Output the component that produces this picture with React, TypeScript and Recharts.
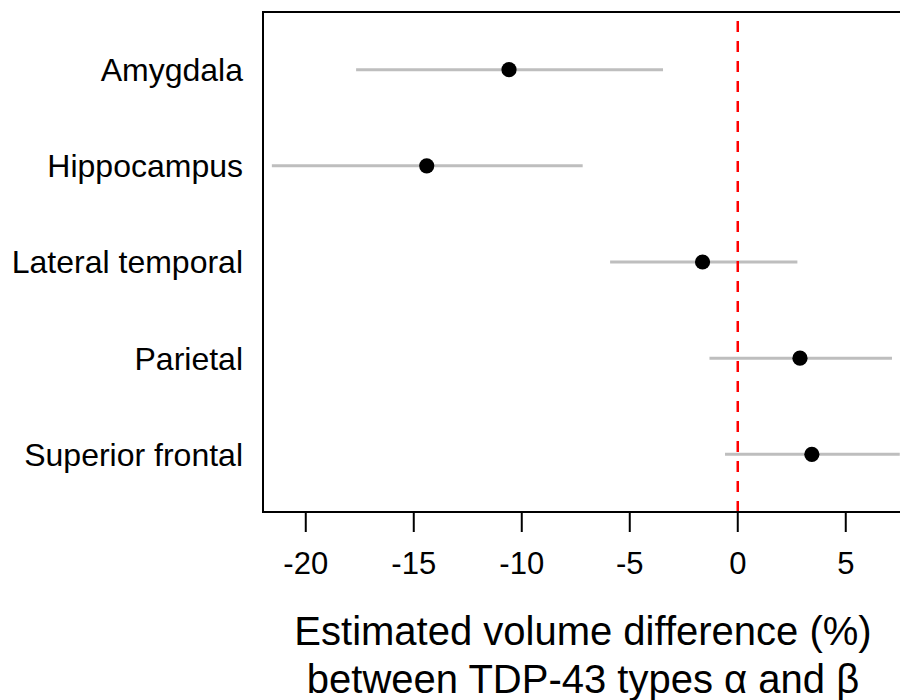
import {
  ScatterChart,
  Scatter,
  XAxis,
  YAxis,
  ErrorBar,
  ReferenceLine,
  ReferenceArea,
} from "recharts";

const regions = ["Amygdala", "Hippocampus", "Lateral temporal", "Parietal", "Superior frontal"];
const estimates = [-10.59, -14.4, -1.63, 2.88, 3.43];
const lowerCI = [-17.67, -21.57, -5.91, -1.31, -0.59];
const upperCI = [-3.46, -7.18, 2.76, 7.14, 7.5];
const xTicks = [-20, -15, -10, -5, 0, 5];

const X_MIN = -21.98;
const X_MAX = 7.65;
const Y_MIN = 0.4;
const Y_MAX = 5.6;

const FONT = "'Liberation Sans', Arial, sans-serif";

const points = regions.map((name, i) => ({
  name,
  x: estimates[i],
  y: i + 1,
  ci: [estimates[i] - lowerCI[i], upperCI[i] - estimates[i]],
}));

function Dot(props: any) {
  return <circle cx={props.cx} cy={props.cy} r={7.6} fill="#000" />;
}

function AxisTitle(props: any) {
  const { x, width } = props.viewBox;
  const cx = x + width / 2;
  return (
    <text textAnchor="middle" fontFamily={FONT} fontSize={40} fill="#000">
      <tspan x={cx} y={645}>Estimated volume difference (%)</tspan>
      <tspan x={cx} y={693}>between TDP-43 types α and β</tspan>
    </text>
  );
}

export default function App() {
  return (
    <div
      style={{
        position: "fixed",
        left: 0,
        top: 0,
        width: 900,
        height: 700,
        overflow: "hidden",
        background: "#fff",
      }}
    >
      <ScatterChart
        width={920}
        height={700}
        margin={{ top: 12, right: 17, bottom: 0, left: 0 }}
      >
        <XAxis
          type="number"
          dataKey="x"
          domain={[X_MIN, X_MAX]}
          allowDataOverflow
          ticks={xTicks}
          height={188}
          tickSize={20}
          tickMargin={20}
          axisLine={{ stroke: "#000", strokeWidth: 2 }}
          tickLine={{ stroke: "#000", strokeWidth: 2 }}
          tick={{ fill: "#000", fontSize: 31, fontFamily: FONT }}
          label={<AxisTitle />}
        />
        <YAxis
          type="number"
          dataKey="y"
          domain={[Y_MIN, Y_MAX]}
          reversed
          allowDataOverflow
          ticks={[1, 2, 3, 4, 5]}
          tickFormatter={(v: number) => regions[v - 1]}
          width={263}
          axisLine={false}
          tickLine={false}
          tickSize={6}
          tickMargin={14}
          tick={{ fill: "#000", fontSize: 32, fontFamily: FONT }}
        />
        <ReferenceArea
          x1={X_MIN}
          x2={X_MAX}
          y1={Y_MIN}
          y2={Y_MAX}
          fill="none"
          fillOpacity={0}
          stroke="#000"
          strokeWidth={2}
        />
        <Scatter data={points} shape={Dot} isAnimationActive={false}>
          <ErrorBar
            dataKey="ci"
            direction="x"
            width={0}
            stroke="#bebebe"
            strokeWidth={3}
            isAnimationActive={false}
          />
        </Scatter>
        <ReferenceLine
          x={0}
          stroke="#ff0000"
          strokeWidth={2.5}
          strokeDasharray="11 9"
        />
      </ScatterChart>
    </div>
  );
}
